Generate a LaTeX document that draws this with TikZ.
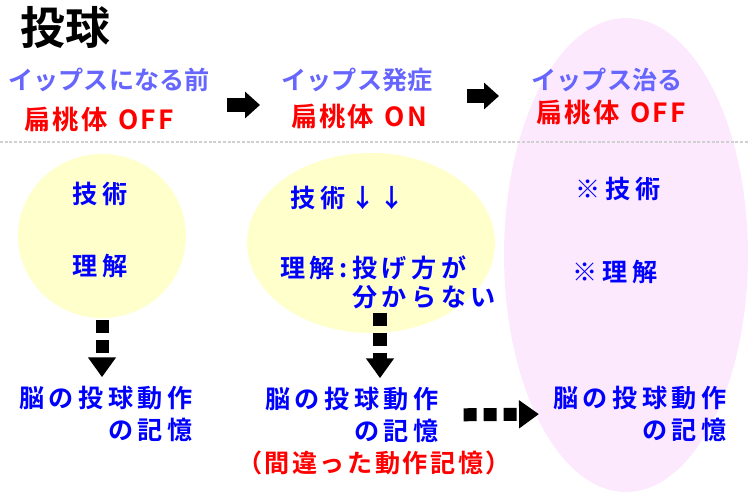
\documentclass[tikz,border=0pt]{standalone}
\usepackage{fontspec}
\setmainfont{Noto Sans CJK JP}[BoldFont={Noto Sans CJK JP Bold}]
\usetikzlibrary{arrows.meta,shapes.geometric}
\definecolor{hdrblue}{RGB}{102,102,255}
\definecolor{memblue}{RGB}{0,0,255}
\definecolor{paleyellow}{RGB}{255,255,204}
\definecolor{palepink}{RGB}{253,233,253}
\definecolor{dotgray}{RGB}{208,208,208}
\tikzset{
  hdr/.style={text=hdrblue,inner sep=0pt,font=\bfseries\fontsize{14.3}{17}\selectfont},
  amy/.style={text=red,inner sep=0pt,font=\bfseries\fontsize{15}{17}\selectfont\addfontfeatures{LetterSpace=8}},
  txt/.style={text=memblue,inner sep=0pt,font=\bfseries\fontsize{14.3}{18.1}\selectfont\addfontfeatures{LetterSpace=18}},
  mem/.style={txt,align=right},
  bubble/.style={ellipse,fill=paleyellow,inner sep=0pt},
  dotarrow/.style={line width=7.4pt,dash pattern=on 7.4pt off 4pt,-{Triangle[width=15.3pt,length=11.3pt]}},
  blockarrow/.style={line width=7.9pt,-{Triangle[width=14.7pt,length=8.5pt]}}
}
\begin{document}
\begin{tikzpicture}[x=0.02cm,y=-0.02cm]
    \useasboundingbox (0,0) rectangle (750,500);

    \node[bubble,fill=palepink,minimum width=4.88cm,minimum height=9.48cm] (e3) at (626,255) {};
    \node[bubble,minimum width=3.36cm,minimum height=3.28cm] (e1) at (102,236) {};
    \node[bubble,minimum width=4.96cm,minimum height=3.6cm] (e2) at (371,243) {};

    \coordinate (l0) at (0,142);
    \coordinate (l1) at (750,142);
    \path[draw,dotgray,line width=1.7pt,dash pattern=on 1.7pt off 1pt] (l0) -- (l1);

    \node[inner sep=0pt,font=\bfseries\fontsize{25.5}{30}\selectfont] (title) at (65,27) {投球};

    \node[hdr] (pre) at (109,80) {イップスになる前};
    \node[amy] (preA) at (99,120) {扁桃体\hspace{0.4em}OFF};
    \node[hdr] (onset) at (357,80) {イップス発症};
    \node[amy] (onsetA) at (359,117) {扁桃体\hspace{0.4em}ON};
    \node[hdr] (cure) at (607,80) {イップス治る};
    \node[amy] (cureA) at (611,113) {扁桃体\hspace{0.4em}OFF};

    \coordinate (a1) at (227,105);
    \coordinate (a2) at (260,105);
    \coordinate (b1) at (467,96);
    \coordinate (b2) at (499,96);
    \path[draw,blockarrow] (a1) -- (a2);
    \path[draw,blockarrow] (b1) -- (b2);

    \node[txt] (s1) at (100,194) {技術};
    \node[txt] (u1) at (100,266) {理解};
    \node[txt] (s2) at (348,198) {技術↓↓};
    \node[txt,anchor=west] (u2) at (280,268) {理解:投げ方が};
    \node[txt,anchor=west] (u2b) at (352,297) {分からない};
    \node[txt] (s3) at (618,189) {※技術};
    \node[txt] (u3) at (615,272) {※理解};

    \node[mem] (m1) at (106,414) {脳の投球動作\\の記憶};
    \node[mem] (m2) at (352,415) {脳の投球動作\\の記憶};
    \node[mem] (m3) at (640,414) {脳の投球動作\\の記憶};
    \node[amy,font=\bfseries\fontsize{14.3}{17}\selectfont\addfontfeatures{LetterSpace=10}] (wrong) at (374,463) {（間違った動作記憶）};

    \coordinate (d2) at ([xshift=0.56cm]u2b.south west);
    \path[draw,dotarrow,shorten <=1pt,shorten >=5pt] (e1.south) -- (e1.south |- m1.north);
    \path[draw,dotarrow,shorten <=2pt,shorten >=5pt] (d2) -- (d2 |- m2.north);
    \path[draw,dotarrow,shorten <=14pt,shorten >=8pt] (m2.east) -- (m3.west);
\end{tikzpicture}
\end{document}
